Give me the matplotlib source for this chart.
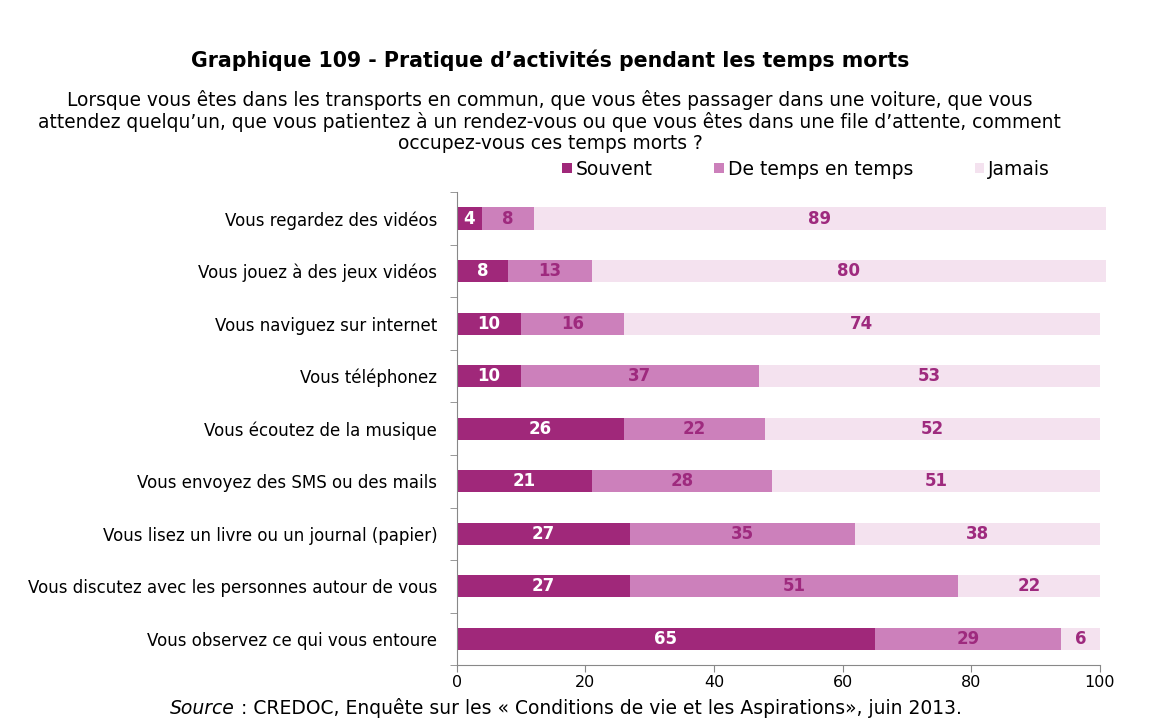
import numpy as np
import matplotlib
matplotlib.use("Agg")
from matplotlib import pyplot as plt

categories = [
    "Vous regardez des vidéos",
    "Vous jouez à des jeux vidéos",
    "Vous naviguez sur internet",
    "Vous téléphonez",
    "Vous écoutez de la musique",
    "Vous envoyez des SMS ou des mails",
    "Vous lisez un livre ou un journal (papier)",
    "Vous discutez avec les personnes autour de vous",
    "Vous observez ce qui vous entoure",
]
souvent = [4, 8, 10, 10, 26, 21, 27, 27, 65]
temps = [8, 13, 16, 37, 22, 28, 35, 51, 29]
jamais = [89, 80, 74, 53, 52, 51, 38, 22, 6]
series_names = ["Souvent", "De temps en temps", "Jamais"]

colors = ["#A0287A", "#CC80BB", "#F4E2EF"]
text_colors = ["white", "#9E2A7E", "#9E2A7E"]

plt.rcParams['font.family'] = ['DejaVu Sans']

fig = plt.figure(figsize=(11.65, 7.2), dpi=100)
ax = fig.add_axes([0.392, 0.076, 0.552, 0.657])

y = np.arange(len(categories))
left = np.zeros(len(categories))
for vals, col, tcol, name in zip([souvent, temps, jamais], colors, text_colors, series_names):
    vals = np.array(vals, dtype=float)
    ax.barh(y, vals, left=left, height=0.42, color=col, label=name, clip_on=False)
    for yi, (l, v) in enumerate(zip(left, vals)):
        ax.text(l + v / 2, yi, str(int(v)), ha='center', va='center',
                color=tcol, fontsize=12, fontweight='bold')
    left = left + vals

ax.set_xlim(0, 100)
ax.set_ylim(len(categories) - 0.5, -0.5)
ax.set_xticks([0, 20, 40, 60, 80, 100])
ax.set_yticks(y)
ax.set_yticklabels(categories, fontsize=12)
ax.tick_params(axis='y', which='major', length=0, pad=14)
ax.set_yticks(np.arange(len(categories) + 1) - 0.5, minor=True)
ax.tick_params(axis='y', which='minor', length=5, color='#888888')
ax.tick_params(axis='x', labelsize=11.5, length=5, pad=2, color='#888888')
for s in ['top', 'right']:
    ax.spines[s].set_visible(False)
ax.spines['left'].set_color('#888888')
ax.spines['bottom'].set_color('#888888')

fig.text(0.472, 0.917, "Graphique 109 - Pratique d\u2019activités pendant les temps morts",
         ha='center', va='center', fontsize=14.8, fontweight='bold')
fig.text(0.472, 0.831,
         "Lorsque vous êtes dans les transports en commun, que vous êtes passager dans une voiture, que vous\n"
         "attendez quelqu\u2019un, que vous patientez à un rendez-vous ou que vous êtes dans une file d\u2019attente, comment\n"
         "occupez-vous ces temps morts ?",
         ha='center', va='center', fontsize=13.4, linespacing=1.12)

fig.legend(loc='center', bbox_to_anchor=(0.692, 0.765), ncol=3, frameon=False,
           fontsize=13.5, handlelength=0.5, handleheight=0.5, handletextpad=0.2,
           columnspacing=3.3)

src = fig.text(0.146, 0.003, "Source", style='italic', fontsize=13.5, ha='left', va='bottom')
fig.canvas.draw()
bb = src.get_window_extent().transformed(fig.transFigure.inverted())
fig.text(bb.x1, 0.003, " : CREDOC, Enquête sur les « Conditions de vie et les Aspirations», juin 2013.",
         fontsize=13.5, ha='left', va='bottom')

fig.savefig("out.png", dpi=100)
